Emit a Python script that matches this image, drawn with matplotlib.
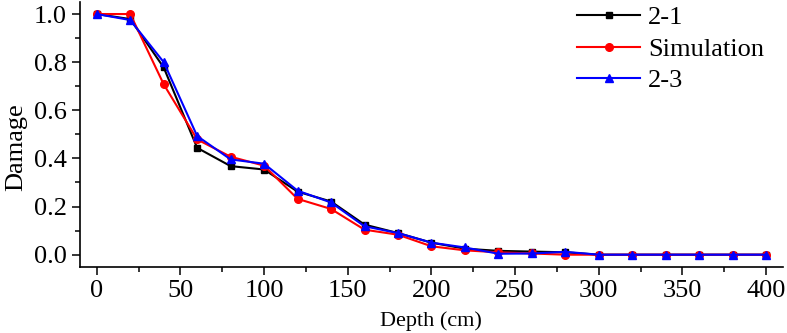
import numpy as np
import matplotlib
matplotlib.use("Agg")
import matplotlib.pyplot as plt
from matplotlib.ticker import MultipleLocator

plt.rcParams['font.family'] = ['Liberation Serif', 'DejaVu Serif']

# -----------------------------
# Data
# -----------------------------
depth = [0, 20, 40, 60, 80, 100, 120, 140, 160, 180, 200,
         220, 240, 260, 280, 300, 320, 340, 360, 380, 400]
damage_21 = [1.0, 0.979, 0.778, 0.444, 0.368, 0.354, 0.262, 0.221, 0.125, 0.09, 0.05,
             0.025, 0.016, 0.013, 0.01, 0.0, 0.0, 0.0, 0.0, 0.0, 0.0]
damage_sim = [1.0, 1.0, 0.708, 0.479, 0.407, 0.37, 0.232, 0.19, 0.104, 0.083, 0.035,
              0.018, 0.01, 0.005, 0.0, 0.0, 0.0, 0.0, 0.0, 0.0, 0.0]
damage_23 = [1.0, 0.975, 0.80, 0.493, 0.396, 0.378, 0.266, 0.217, 0.118, 0.09, 0.05,
             0.03, 0.004, 0.005, 0.012, 0.0, 0.0, 0.0, 0.0, 0.0, 0.0]

# -----------------------------
# Plot
# -----------------------------
fig = plt.figure(figsize=(7.87, 3.33), dpi=100)
ax = fig.add_axes([0.1017, 0.199, 0.893, 0.795])

ax.plot(depth, damage_21, color='black', marker='s', markersize=5, lw=1.5, label='2-1')
ax.plot(depth, damage_sim, color='red', marker='o', markersize=5.5, lw=1.5, label='Simulation')
ax.plot(depth, damage_23, color='blue', marker='^', markersize=6, lw=1.5, label='2-3')

ax.set_xlim(-10, 410)
ax.set_ylim(-0.05, 1.05)
ax.xaxis.set_major_locator(MultipleLocator(50))
ax.xaxis.set_minor_locator(MultipleLocator(25))
ax.yaxis.set_major_locator(MultipleLocator(0.2))
ax.yaxis.set_minor_locator(MultipleLocator(0.1))
ax.yaxis.set_major_formatter(plt.FormatStrFormatter('%.1f'))

for side in ['top', 'right']:
    ax.spines[side].set_visible(False)
for side in ['left', 'bottom']:
    ax.spines[side].set_linewidth(1.2)

ax.tick_params(which='major', direction='out', length=6, width=1.1, labelsize=19)
ax.tick_params(which='minor', direction='out', length=3.5, width=1.1)

ax.set_xlabel('Depth (cm)', fontsize=16, labelpad=7)
ax.set_ylabel('Damage', fontsize=19)
ax.yaxis.set_label_coords(-0.075, 0.45)

ax.legend(loc='upper right', bbox_to_anchor=(1.0, 1.055), frameon=False, fontsize=19,
          handlelength=2.4, labelspacing=0.3, handletextpad=0.3, borderpad=0.2)

fig.savefig('out.png', dpi=100)
